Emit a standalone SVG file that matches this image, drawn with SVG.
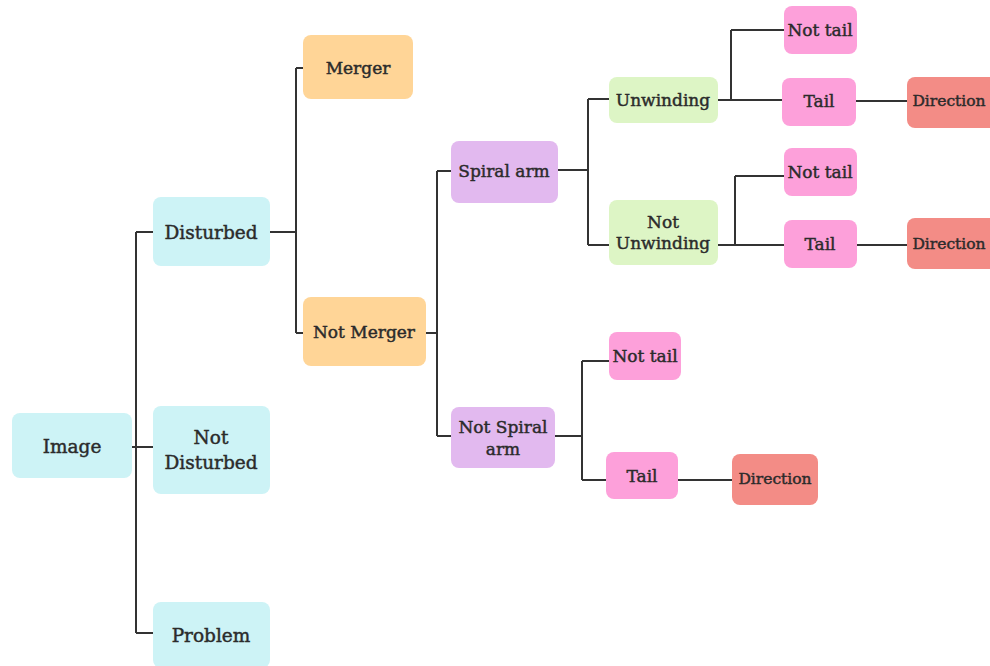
<svg xmlns="http://www.w3.org/2000/svg" width="990" height="666" viewBox="0 0 990 666">
<style>
.n rect{rx:8;ry:8}
.t{font-family:"DejaVu Serif","Liberation Serif",serif;font-size:17px;fill:#2b2b2b;stroke:#2b2b2b;stroke-width:0.45;text-anchor:middle;dominant-baseline:central}
.L{font-size:18.5px}
.D{font-size:15.5px}
.cy{fill:#cdf3f6}.or{fill:#ffd597}.pu{fill:#e2b9ef}.gr{fill:#ddf5c5}.pk{fill:#fda0da}.rd{fill:#f38c86}
#edges path{fill:none;stroke:#333;stroke-width:2}
</style>
<rect width="990" height="666" fill="#fff"/>
<g id="edges">
<path d="M132 447H136M136 232V633M136 232H153M136 447H153M136 633H153"/>
<path d="M270 232H296M296 68V333M296 68H303M296 333H303"/>
<path d="M426 333H437M437 171V436M437 171H451M437 436H451"/>
<path d="M558 170H588M588 99V245M588 99H609M588 245H609"/>
<path d="M555 436H582M582 361V480M582 361H609M582 480H606M678 480H732"/>
<path d="M718 100H782M731 30V100M731 30H784M856 101H907"/>
<path d="M718 245H784M735 176V245M735 176H784M857 245H907"/>
</g>
<g id="image" class="n"><rect class="cy" x="12" y="413" width="120" height="65"/><text class="t L" x="72" y="446">Image</text></g>
<g id="disturbed" class="n"><rect class="cy" x="153" y="197" width="117" height="69"/><text class="t L" x="211" y="232">Disturbed</text></g>
<g id="not-disturbed" class="n"><rect class="cy" x="153" y="406" width="117" height="88"/><text class="t L" x="211" y="437">Not</text><text class="t L" x="211" y="462">Disturbed</text></g>
<g id="problem" class="n"><rect class="cy" x="153" y="602" width="117" height="66"/><text class="t L" x="211" y="635">Problem</text></g>
<g id="merger" class="n"><rect class="or" x="303" y="35" width="110" height="64"/><text class="t" x="358" y="68">Merger</text></g>
<g id="not-merger" class="n"><rect class="or" x="303" y="297" width="123" height="69"/><text class="t" x="364" y="332">Not Merger</text></g>
<g id="spiral-arm" class="n"><rect class="pu" x="451" y="141" width="107" height="62"/><text class="t" x="504" y="171">Spiral arm</text></g>
<g id="not-spiral-arm" class="n"><rect class="pu" x="451" y="407" width="104" height="61"/><text class="t" x="503" y="427">Not Spiral</text><text class="t" x="503" y="449">arm</text></g>
<g id="unwinding" class="n"><rect class="gr" x="609" y="77" width="109" height="46"/><text class="t" x="663" y="100">Unwinding</text></g>
<g id="not-unwinding" class="n"><rect class="gr" x="609" y="200" width="109" height="65"/><text class="t" x="663" y="222">Not</text><text class="t" x="663" y="243">Unwinding</text></g>
<g id="not-tail-1" class="n"><rect class="pk" x="784" y="6" width="73" height="48"/><text class="t" x="820" y="30">Not tail</text></g>
<g id="tail-1" class="n"><rect class="pk" x="782" y="78" width="74" height="48"/><text class="t" x="819" y="101">Tail</text></g>
<g id="direction-1" class="n"><rect class="rd" x="907" y="77" width="90" height="51"/><text class="t D" x="949" y="101">Direction</text></g>
<g id="not-tail-2" class="n"><rect class="pk" x="784" y="148" width="73" height="48"/><text class="t" x="820" y="172">Not tail</text></g>
<g id="tail-2" class="n"><rect class="pk" x="784" y="220" width="73" height="48"/><text class="t" x="820" y="244">Tail</text></g>
<g id="direction-2" class="n"><rect class="rd" x="907" y="218" width="90" height="51"/><text class="t D" x="949" y="244">Direction</text></g>
<g id="not-tail-3" class="n"><rect class="pk" x="609" y="332" width="72" height="48"/><text class="t" x="645" y="356">Not tail</text></g>
<g id="tail-3" class="n"><rect class="pk" x="606" y="452" width="72" height="47"/><text class="t" x="642" y="476">Tail</text></g>
<g id="direction-3" class="n"><rect class="rd" x="732" y="454" width="86" height="51"/><text class="t D" x="775" y="479">Direction</text></g>
</svg>
